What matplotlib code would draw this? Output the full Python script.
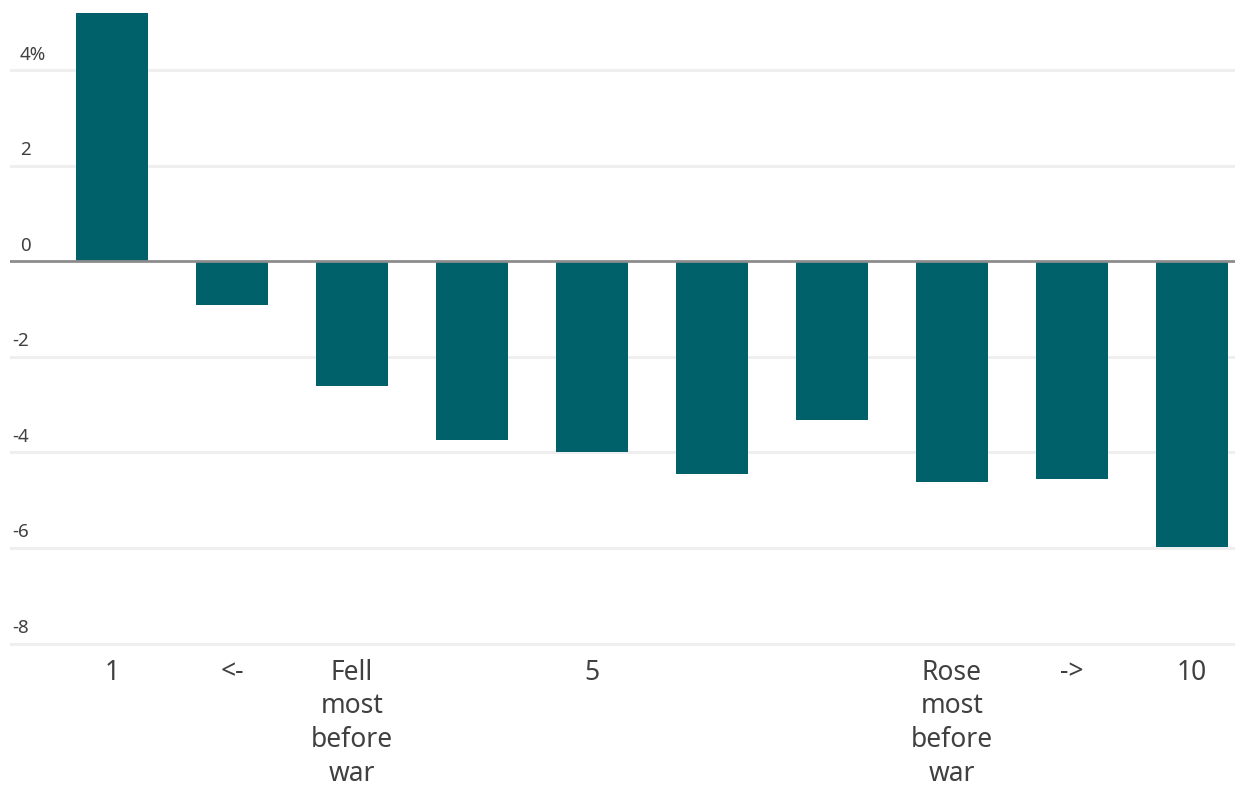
import matplotlib.pyplot as plt
import matplotlib.transforms as mtransforms

# decile groups, from the stocks that fell most before the war to those that rose most
groups = ["1", "<-", "Fell\nmost\nbefore\nwar", "", "5", "", "", "Rose\nmost\nbefore\nwar", "->", "10"]
changes = [5.2, -0.92, -2.6, -3.73, -4.0, -4.44, -3.31, -4.61, -4.55, -5.97]
y_ticks = [4, 2, 0, -2, -4, -6, -8]
y_labels = ["4%", "2", "0", "-2", "-4", "-6", "-8"]

plt.rcParams['font.family'] = ['Noto Sans', 'DejaVu Sans']

fig = plt.figure(figsize=(12.35, 7.93), dpi=100)
ax = fig.add_axes([10 / 1235, 147 / 793, 1225 / 1235, 646 / 793])

x = list(range(len(changes)))
ax.bar(x, changes, width=0.6, color='#00616A', zorder=3)

ax.set_xlim(-0.85, 9.36)
ax.set_ylim(-8.05, 5.47)

# light gridlines and a darker zero line
for t in y_ticks:
    if t == 0:
        ax.axhline(t, color='#8c8c8c', linewidth=2, zorder=4)
    else:
        ax.axhline(t, color='#efefef', linewidth=2.2, zorder=1)

# y labels sit just above their gridline, near the left edge
trans = mtransforms.blended_transform_factory(ax.transAxes, ax.transData)
for t, lab in zip(y_ticks, y_labels):
    xoff = 0.002 if t < 0 else 0.008
    ax.text(xoff, t + 0.14, lab, transform=trans, ha='left', va='bottom',
            fontsize=13.5, color='#404040', fontstretch='condensed')

ax.set_yticks([])
ax.set_xticks(x)
ax.set_xticklabels(groups, fontsize=19, color='#404040', linespacing=1.28)
ax.tick_params(axis='x', length=0, pad=9)

for s in ax.spines.values():
    s.set_visible(False)

fig.savefig('out.png', dpi=100)
